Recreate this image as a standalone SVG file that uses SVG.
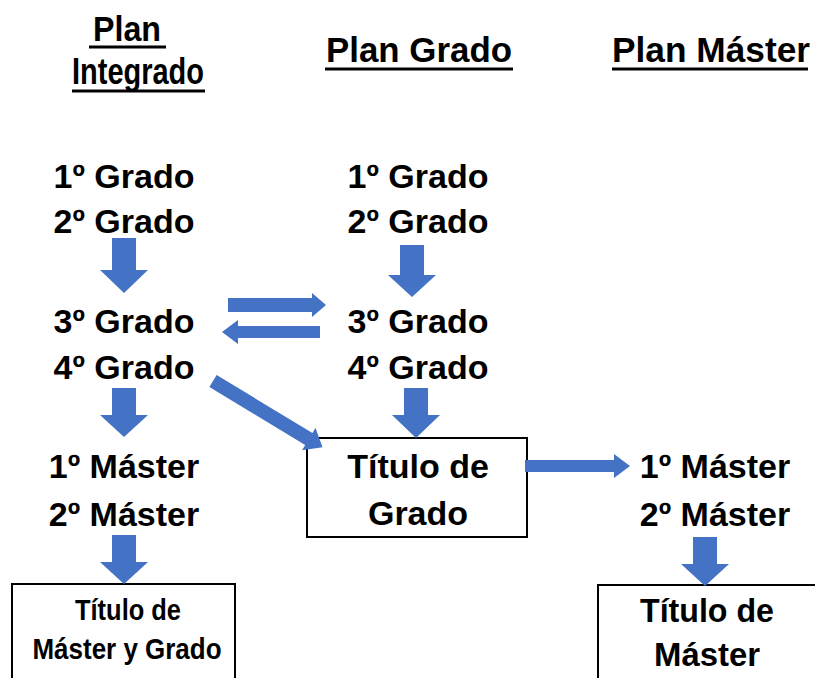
<svg xmlns="http://www.w3.org/2000/svg" width="815" height="678" viewBox="0 0 815 678">
<style>
.t{font-family:"Liberation Sans",Arial,sans-serif;font-weight:bold;fill:#000;text-anchor:middle}
.h{font-size:35px}
.b{font-size:34px}
.s{font-size:30px}
.ul{stroke:#000;stroke-width:3}
.box{fill:#fff;stroke:#000;stroke-width:2}
.ar{fill:#4472C4}
</style>
<rect width="815" height="678" fill="#fff"/>
<g id="headers">
<g id="h-integrado">
<text class="t h" x="127" y="41" textLength="68" lengthAdjust="spacingAndGlyphs">Plan</text>
<line class="ul" x1="89" y1="47" x2="166" y2="47"/>
<text class="t" x="138" y="84" font-size="36" textLength="132" lengthAdjust="spacingAndGlyphs">Integrado</text>
<line class="ul" x1="72" y1="91" x2="205" y2="91"/>
</g>
<g id="h-grado">
<text class="t h" x="419" y="62" textLength="186" lengthAdjust="spacingAndGlyphs">Plan Grado</text>
<line class="ul" x1="325" y1="69" x2="513" y2="69"/>
</g>
<g id="h-master">
<text class="t h" x="711" y="62" textLength="198" lengthAdjust="spacingAndGlyphs">Plan Máster</text>
<line class="ul" x1="612" y1="69" x2="808" y2="69"/>
</g>
</g>
<g id="col-integrado">
<g id="i1"><text class="t b" x="124" y="188">1º Grado</text></g>
<g id="i2"><text class="t b" x="124" y="233">2º Grado</text></g>
<g id="i3"><text class="t b" x="124" y="333">3º Grado</text></g>
<g id="i4"><text class="t b" x="124" y="379">4º Grado</text></g>
<g id="i5"><text class="t b" x="124" y="478">1º Máster</text></g>
<g id="i6"><text class="t b" x="124" y="526">2º Máster</text></g>
<g id="titulo-mg">
<rect class="box" x="12" y="584" width="223" height="110"/>
<text class="t s" x="128" y="620" textLength="106" lengthAdjust="spacingAndGlyphs">Título de</text>
<text class="t s" x="127" y="659" textLength="189" lengthAdjust="spacingAndGlyphs">Máster y Grado</text>
</g>
</g>
<g id="col-grado">
<g id="g1"><text class="t b" x="418" y="188">1º Grado</text></g>
<g id="g2"><text class="t b" x="418" y="233">2º Grado</text></g>
<g id="g3"><text class="t b" x="418" y="333">3º Grado</text></g>
<g id="g4"><text class="t b" x="418" y="379">4º Grado</text></g>
<g id="titulo-grado">
<rect class="box" x="307" y="438" width="220" height="99"/>
<text class="t b" x="418" y="478">Título de</text>
<text class="t b" x="418" y="525">Grado</text>
</g>
</g>
<g id="col-master">
<g id="m1"><text class="t b" x="715" y="478">1º Máster</text></g>
<g id="m2"><text class="t b" x="715" y="526">2º Máster</text></g>
<g id="titulo-master">
<rect class="box" x="598" y="585" width="230" height="110"/>
<text class="t b" x="707" y="622" textLength="134" lengthAdjust="spacingAndGlyphs">Título de</text>
<text class="t b" x="707" y="666" textLength="106" lengthAdjust="spacingAndGlyphs">Máster</text>
</g>
</g>
<g id="connectors">
<path class="ar" d="M112 238H136V270H148L124 293L100 270H112Z"/>
<path class="ar" d="M400 245H424V275H436L412 297L388 275H400Z"/>
<path class="ar" d="M112 388H136V415H148L124 437L100 415H112Z"/>
<path class="ar" d="M404 388H428V415H440L416 438L392 415H404Z"/>
<path class="ar" d="M112 535H136V562H148L124 584L100 562H112Z"/>
<path class="ar" d="M693 537H717V564H729L705 586L681 564H693Z"/>
<path class="ar" d="M228 298H312V293L326 305L312 317V312H228Z"/>
<path class="ar" d="M320 326H238V320L222 332L238 344V338H320Z"/>
<path class="ar" d="M525 460H614V454L630 466L614 478V472H525Z"/>
<path class="ar" transform="translate(213 381) rotate(31.2)" d="M0 -7H112V-13L128 0L112 13V7H0Z"/>
</g>
</svg>
